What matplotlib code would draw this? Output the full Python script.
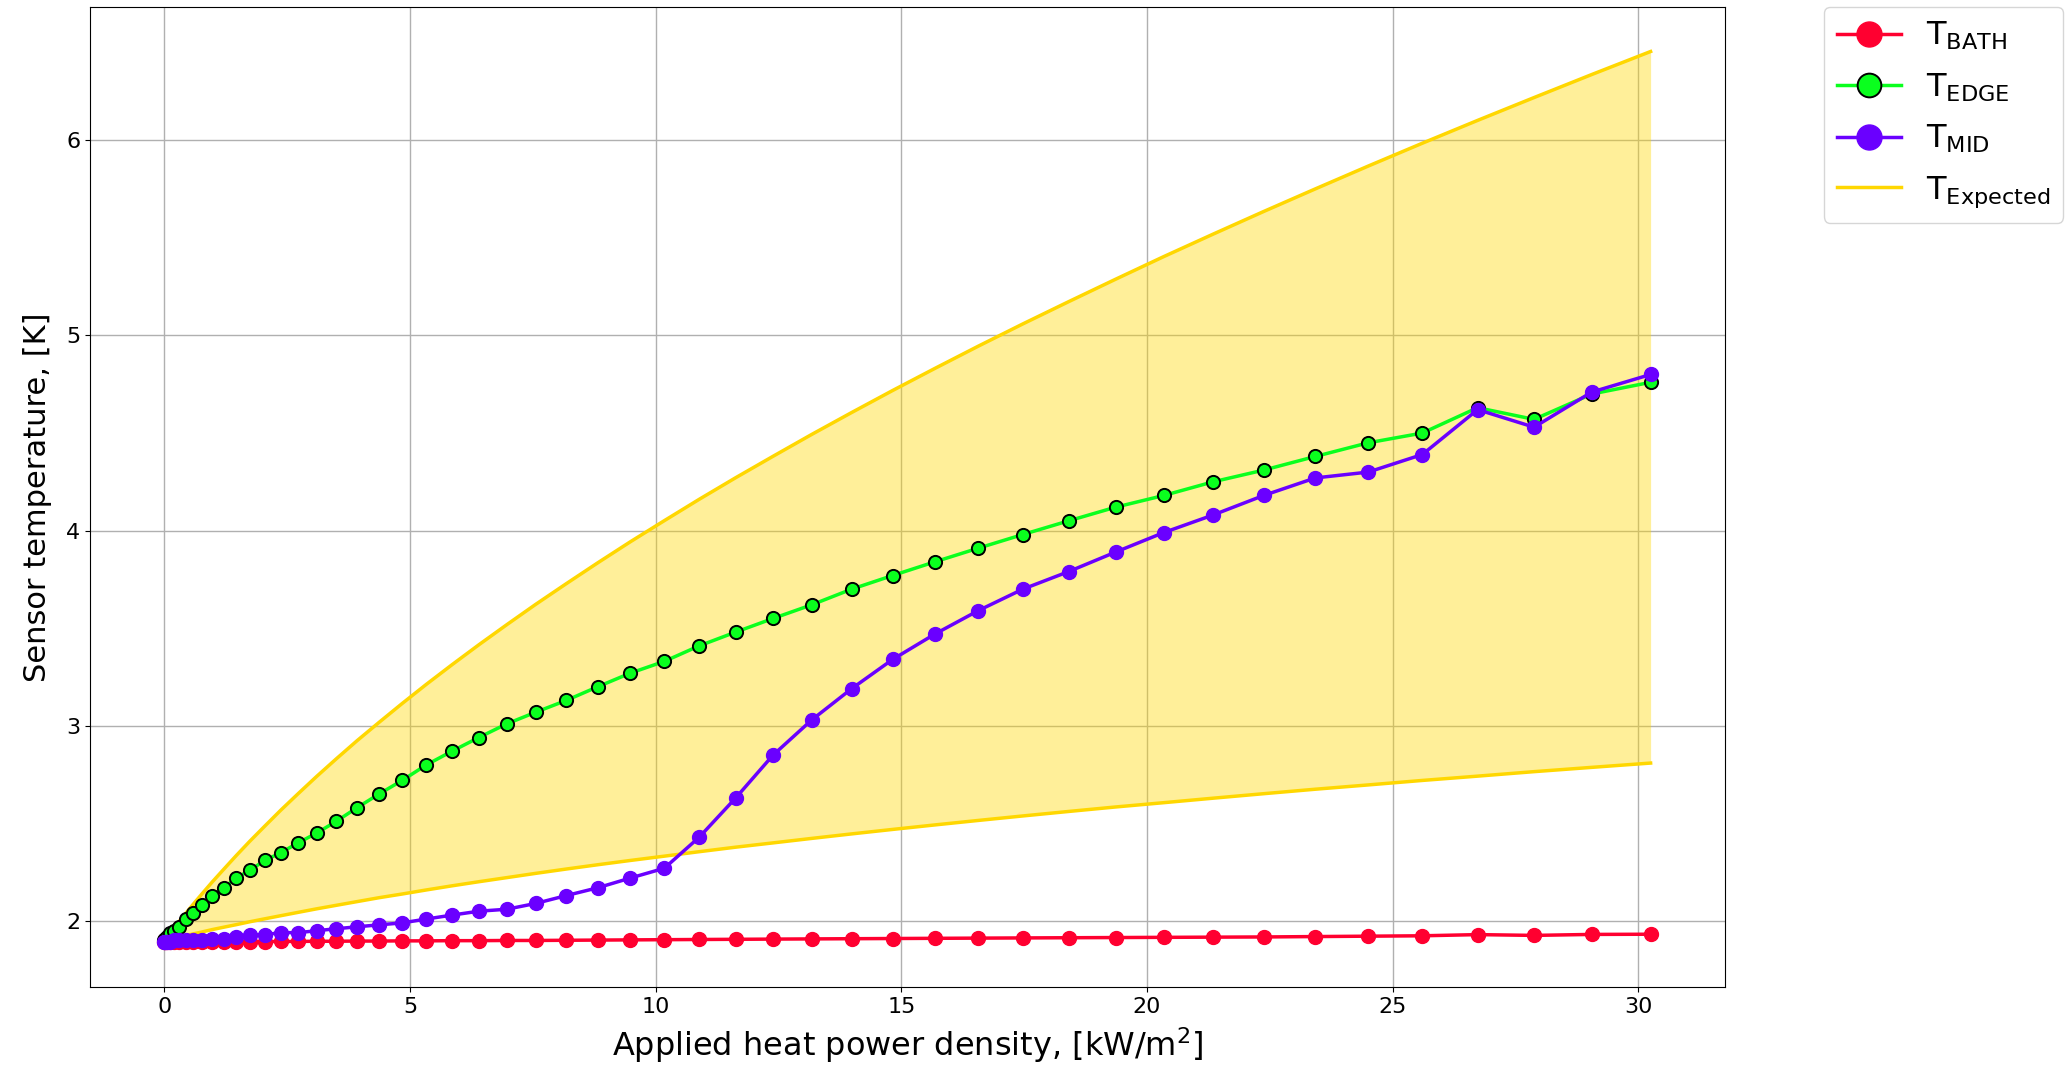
import matplotlib
matplotlib.use("Agg")
import matplotlib.pyplot as plt

# Applied heat power density [kW/m^2]
power = [0.000, 0.012, 0.048, 0.109, 0.194, 0.303, 0.436, 0.593, 0.774, 0.980,
         1.210, 1.464, 1.742, 2.045, 2.372, 2.723, 3.098, 3.497, 3.920, 4.368,
         4.840, 5.336, 5.856, 6.401, 6.970, 7.563, 8.180, 8.821, 9.486, 10.176,
         10.890, 11.628, 12.390, 13.177, 13.988, 14.823, 15.682, 16.565, 17.472, 18.404,
         19.360, 20.340, 21.344, 22.373, 23.426, 24.503, 25.604, 26.729, 27.878, 29.052,
         30.250]

t_bath = [1.890, 1.890, 1.890, 1.890, 1.890, 1.890, 1.890, 1.891, 1.891, 1.892,
          1.893, 1.893, 1.894, 1.894, 1.895, 1.895, 1.896, 1.896, 1.897, 1.897,
          1.898, 1.898, 1.899, 1.899, 1.900, 1.900, 1.901, 1.902, 1.903, 1.904,
          1.905, 1.906, 1.907, 1.908, 1.909, 1.910, 1.911, 1.912, 1.913, 1.914,
          1.915, 1.916, 1.917, 1.918, 1.920, 1.922, 1.924, 1.930, 1.926, 1.931,
          1.932]

t_edge = [1.90, 1.91, 1.92, 1.94, 1.95, 1.97, 2.01, 2.04, 2.08, 2.13,
          2.17, 2.22, 2.26, 2.31, 2.35, 2.40, 2.45, 2.51, 2.58, 2.65,
          2.72, 2.80, 2.87, 2.94, 3.01, 3.07, 3.13, 3.20, 3.27, 3.33,
          3.41, 3.48, 3.55, 3.62, 3.70, 3.77, 3.84, 3.91, 3.98, 4.05,
          4.12, 4.18, 4.25, 4.31, 4.38, 4.45, 4.50, 4.63, 4.57, 4.70,
          4.76]

t_mid = [1.89, 1.89, 1.89, 1.89, 1.90, 1.90, 1.90, 1.90, 1.90, 1.91,
         1.91, 1.92, 1.93, 1.93, 1.94, 1.94, 1.95, 1.96, 1.97, 1.98,
         1.99, 2.01, 2.03, 2.05, 2.06, 2.09, 2.13, 2.17, 2.22, 2.27,
         2.43, 2.63, 2.85, 3.03, 3.19, 3.34, 3.47, 3.59, 3.70, 3.79,
         3.89, 3.99, 4.08, 4.18, 4.27, 4.30, 4.39, 4.62, 4.53, 4.71,
         4.80]

t_exp_high = [1.900, 1.904, 1.916, 1.936, 1.963, 1.998, 2.039, 2.087, 2.141, 2.201,
              2.265, 2.335, 2.409, 2.486, 2.568, 2.652, 2.740, 2.830, 2.923, 3.017,
              3.114, 3.213, 3.313, 3.415, 3.518, 3.623, 3.728, 3.835, 3.943, 4.051,
              4.161, 4.271, 4.381, 4.493, 4.605, 4.718, 4.831, 4.945, 5.059, 5.173,
              5.288, 5.404, 5.519, 5.635, 5.751, 5.868, 5.985, 6.102, 6.219, 6.337,
              6.455]

t_exp_low = [1.900, 1.901, 1.903, 1.906, 1.911, 1.918, 1.925, 1.934, 1.944, 1.956,
             1.968, 1.981, 1.996, 2.011, 2.027, 2.044, 2.062, 2.080, 2.099, 2.119,
             2.138, 2.159, 2.180, 2.201, 2.222, 2.244, 2.266, 2.288, 2.310, 2.332,
             2.355, 2.378, 2.400, 2.423, 2.446, 2.469, 2.492, 2.515, 2.538, 2.561,
             2.584, 2.606, 2.629, 2.652, 2.675, 2.697, 2.720, 2.742, 2.765, 2.787,
             2.809]

RED = "#FF0030"
GREEN = "#0AFF1E"
PURPLE = "#6A00FF"
GOLD = "#FFD700"

fig = plt.figure(figsize=(20.69, 10.70), dpi=100)
ax = fig.add_axes([0.0435, 0.0776, 0.7902, 0.9159])

ax.fill_between(power, t_exp_low, t_exp_high, color=GOLD, alpha=0.4, linewidth=0, zorder=1)
ax.plot(power, t_exp_high, color=GOLD, lw=2.5, zorder=2, label=r"T$_{\mathrm{Expected}}$")
ax.plot(power, t_exp_low, color=GOLD, lw=2.5, zorder=2)

ax.plot(power, t_bath, color=RED, lw=2.5, marker="o", ms=10, zorder=3,
        label=r"T$_{\mathrm{BATH}}$")
ax.plot(power, t_edge, color=GREEN, lw=2.5, marker="o", ms=9.5,
        markeredgecolor="black", markeredgewidth=1.4, zorder=4,
        label=r"T$_{\mathrm{EDGE}}$")
ax.plot(power, t_mid, color=PURPLE, lw=2.5, marker="o", ms=10, zorder=5,
        label=r"T$_{\mathrm{MID}}$")

ax.grid(True, color="#b0b0b0", lw=1.0)
ax.set_axisbelow(True)

ax.set_xlabel(r"Applied heat power density, [kW/m$^2$]", fontsize=23, labelpad=6)
ax.set_ylabel("Sensor temperature, [K]", fontsize=22, labelpad=10)
ax.tick_params(axis="both", labelsize=16)

handles, labels = ax.get_legend_handles_labels()
order = [1, 2, 3, 0]
ax.legend([handles[i] for i in order], [labels[i] for i in order],
          loc="upper left", bbox_to_anchor=(1.0605, 1.0), borderaxespad=0,
          fontsize=23, markerscale=1.8, labelspacing=0.6)

fig.savefig("out.png", dpi=100)
